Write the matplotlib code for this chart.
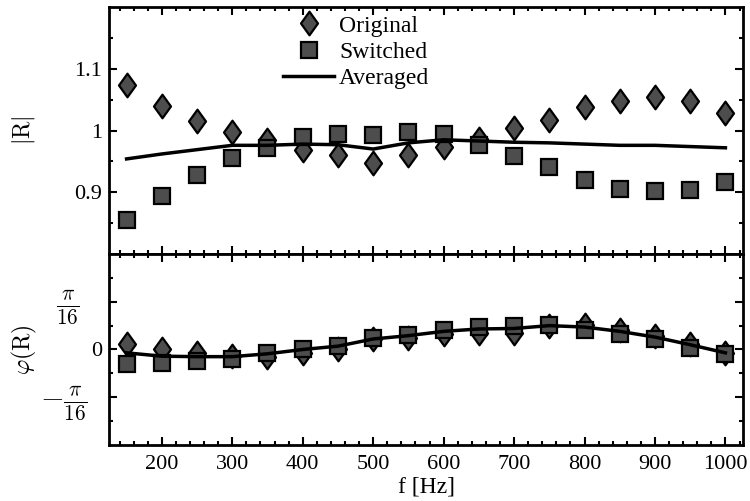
import numpy as np
import matplotlib
matplotlib.use('Agg')
from matplotlib import pyplot as plt
from matplotlib.path import Path
from matplotlib.transforms import ScaledTranslation

plt.rcParams['font.family'] = ['Liberation Serif', 'DejaVu Serif']
plt.rcParams['mathtext.fontset'] = 'cm'

# frequencies
freq = [150, 200, 250, 300, 350, 400, 450, 500, 550, 600,
        650, 700, 750, 800, 850, 900, 950, 1000]

# |R|
mag_original = [1.074, 1.039, 1.015, 0.997, 0.984, 0.969, 0.960, 0.948, 0.961,
                0.973, 0.987, 1.004, 1.017, 1.038, 1.047, 1.055, 1.047, 1.028]
mag_switched = [0.855, 0.894, 0.928, 0.956, 0.972, 0.989, 0.995, 0.993, 0.998,
                0.994, 0.977, 0.959, 0.941, 0.920, 0.906, 0.902, 0.903, 0.917]
mag_averaged = [0.954, 0.962, 0.969, 0.976, 0.976, 0.978, 0.977, 0.970, 0.980,
                0.985, 0.983, 0.981, 0.980, 0.978, 0.976, 0.976, 0.974, 0.972]

# phase, in units of pi/16
ph_original = [0.12, 0.0, -0.08, -0.14, -0.15, -0.07, 0.0, 0.22, 0.24,
               0.33, 0.34, 0.34, 0.50, 0.52, 0.40, 0.29, 0.12, -0.07]
ph_switched = [-0.31, -0.28, -0.24, -0.19, -0.07, 0.02, 0.07, 0.24, 0.31,
               0.40, 0.47, 0.50, 0.52, 0.41, 0.33, 0.21, 0.03, -0.10]
ph_averaged = [-0.07, -0.14, -0.15, -0.15, -0.09, 0.0, 0.07, 0.22, 0.29,
               0.38, 0.43, 0.44, 0.50, 0.47, 0.38, 0.26, 0.10, -0.07]

u = np.pi / 16
ph_original = np.array(ph_original) * u
ph_switched = np.array(ph_switched) * u
ph_averaged = np.array(ph_averaged) * u

# tall matlab-ish diamond
diamond = Path([(0, 1), (0.72, 0), (0, -1), (-0.72, 0), (0, 1)],
               [Path.MOVETO, Path.LINETO, Path.LINETO, Path.LINETO, Path.CLOSEPOLY])

fill = '#4d4d4d'
fs = 16

fig = plt.figure(figsize=(7.5, 5.01), dpi=100)
ax1 = fig.add_axes([0.1453, 0.493, 0.8454, 0.493])
ax2 = fig.add_axes([0.1453, 0.1118, 0.8454, 0.3812])

for ax in (ax1, ax2):
    ax.set_xlim(125, 1025)
    ax.set_xticks(range(200, 1001, 100))
    ax.set_xticks(range(140, 1025, 20), minor=True)
    ax.tick_params(which='both', direction='in', top=True, right=True,
                   labelsize=fs, width=1.5)
    ax.tick_params(which='major', length=6)
    ax.tick_params(which='minor', length=3)
    ax.tick_params(axis='x', pad=7)
    ax.tick_params(axis='y', pad=5)
    for s in ax.spines.values():
        s.set_linewidth(2)

ax1.plot(freq, mag_original, linestyle='none', marker=diamond, markersize=17,
         markerfacecolor=fill, markeredgecolor='black', markeredgewidth=1.6, label='Original')
ax1.plot(freq, mag_switched, linestyle='none', marker='s', markersize=11,
         markerfacecolor=fill, markeredgecolor='black', markeredgewidth=1.6, label='Switched')
ax1.plot(freq, mag_averaged, color='black', linewidth=2.5, label='Averaged')
ax1.set_ylim(0.8, 1.2)
ax1.set_yticks([0.9, 1.0, 1.1])
ax1.set_yticklabels(['0.9', '1', '1.1'])
ax1.set_yticks(np.arange(0.85, 1.2, 0.05), minor=True)
ax1.tick_params(labelbottom=False)
ax1.set_ylabel(r'$|\mathrm{R}|$', fontsize=17)
ax1.yaxis.set_label_coords(-0.114, 0.5)
ax1.legend(loc='upper left', bbox_to_anchor=(0.27, 0.977), frameon=False,
           fontsize=17, handlelength=2.2, handletextpad=0.2, labelspacing=0.2,
           borderpad=0.1, borderaxespad=0.0)

ax2.plot(freq, ph_original, linestyle='none', marker=diamond, markersize=17,
         markerfacecolor=fill, markeredgecolor='black', markeredgewidth=1.6)
ax2.plot(freq, ph_switched, linestyle='none', marker='s', markersize=11,
         markerfacecolor=fill, markeredgecolor='black', markeredgewidth=1.6)
ax2.plot(freq, ph_averaged, color='black', linewidth=2.5)
ax2.set_ylim(-np.pi / 8, np.pi / 8)
ax2.set_yticks([-u, 0, u])
ax2.set_yticklabels([r'$-\frac{\pi}{16}$', '0', r'$\frac{\pi}{16}$'])
ax2.set_yticks([-1.5 * u, -0.5 * u, 0.5 * u, 1.5 * u], minor=True)
# the pi labels sit further out than the 0
ylabs = ax2.get_yticklabels()
shifts = [-0.15, 0, -0.23]
for lab, dx in zip(ylabs, shifts):
    if dx != 0:
        lab.set_fontsize(22)
        lab.set_transform(lab.get_transform() + ScaledTranslation(dx, 0.02, fig.dpi_scale_trans))
ax2.set_ylabel(r'$\varphi(\mathrm{R})$', fontsize=17)
ax2.yaxis.set_label_coords(-0.11, 0.5)
ax2.set_xlabel('f [Hz]', fontsize=17, labelpad=2)

fig.savefig('out.png', dpi=100)
